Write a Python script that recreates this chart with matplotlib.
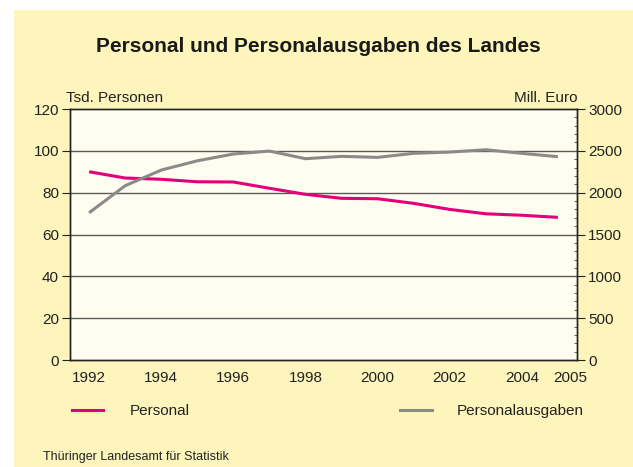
import numpy as np
import matplotlib
matplotlib.use('Agg')
from matplotlib import pyplot as plt
from matplotlib.patches import Rectangle
from matplotlib.lines import Line2D

plt.rcParams['font.family'] = ['Liberation Sans', 'DejaVu Sans']

# === Data ===
years = [1992, 1993, 1994, 1995, 1996, 1997, 1998, 1999, 2000, 2001, 2002, 2003, 2004, 2005]
personal = [90, 87, 86.4, 85.2, 85.1, 82.1, 79.2, 77.3, 77.1, 74.9, 72.0, 69.9, 69.2, 68.2]
ausgaben = [1760, 2083, 2270, 2381, 2462, 2497, 2406, 2434, 2422, 2470, 2485, 2513, 2470, 2430]
xtick_years = [1992, 1994, 1996, 1998, 2000, 2002, 2004]
left_ticks = [0, 20, 40, 60, 80, 100, 120]
right_ticks = [0, 500, 1000, 1500, 2000, 2500, 3000]

c_pers = '#e2007a'
c_ausg = '#8a8a88'
c_bg = '#fdf5bb'
c_plot = '#fffdf0'
c_txt = '#222222'

fig = plt.figure(figsize=(6.33, 4.67), dpi=100)
fig.patch.set_facecolor('white')
fig.patches.append(Rectangle((14/633, 0), 1 - 14/633, 1 - 10/467, transform=fig.transFigure,
                             facecolor=c_bg, edgecolor='none', zorder=-10))

ax = fig.add_axes([70/633, 1 - 360/467, (577 - 70)/633, (360 - 109)/467])
ax.set_facecolor(c_plot)
ax.set_xlim(1991.47, 2005.53)
ax.set_ylim(0, 120)
ax.set_yticks(left_ticks)
for t in left_ticks[1:-1]:
    ax.axhline(t, color='#5a5a5a', lw=1.0, zorder=1)

ax.plot(years, personal, color=c_pers, lw=2.2, zorder=3, solid_capstyle='butt')

ax2 = ax.twinx()
ax2.set_ylim(0, 3000)
ax2.set_yticks(right_ticks)
ax2.set_yticks(np.arange(0, 3001, 100), minor=True)
ax2.plot(years, ausgaben, color=c_ausg, lw=2.2, zorder=3, solid_capstyle='butt')

# 2005 label sits at the right edge in the original
ax.set_xticks(xtick_years + [2005.33])
ax.set_xticklabels([str(y) for y in xtick_years] + ['2005'])
ax.tick_params(axis='x', length=0, pad=8, labelsize=11, colors=c_txt)
ax.tick_params(axis='y', length=6, width=0.8, pad=2, labelsize=11, colors=c_txt)
ax2.tick_params(axis='y', which='major', length=6, width=0.8, pad=2, labelsize=11, colors=c_txt)
ax2.tick_params(axis='y', which='minor', length=2, width=0.6, direction='in', colors='#444444')

for a in (ax, ax2):
    for s in a.spines.values():
        s.set_color(c_txt)
        s.set_linewidth(1.0)

fig.text(318/633, 1 - 47/467, 'Personal und Personalausgaben des Landes',
         ha='center', va='center', fontsize=15, fontweight='bold', color='#1a1a1a')
fig.text(66/633, 1 - 98/467, 'Tsd. Personen', ha='left', va='center', fontsize=11, color=c_txt)
fig.text(577/633, 1 - 98/467, 'Mill. Euro', ha='right', va='center', fontsize=11, color=c_txt)

# legend
fig.add_artist(Line2D([72/633, 103/633], [1 - 410/467] * 2, color=c_pers, lw=2.2))
fig.text(130/633, 1 - 411/467, 'Personal', ha='left', va='center', fontsize=11, color=c_txt)
fig.add_artist(Line2D([400/633, 432/633], [1 - 410/467] * 2, color=c_ausg, lw=2.2))
fig.text(457/633, 1 - 411/467, 'Personalausgaben', ha='left', va='center', fontsize=11, color=c_txt)

fig.text(43/633, 1 - 457/467, 'Thüringer Landesamt für Statistik', ha='left', va='center',
         fontsize=9, color=c_txt)

fig.savefig('out.png', dpi=100)
